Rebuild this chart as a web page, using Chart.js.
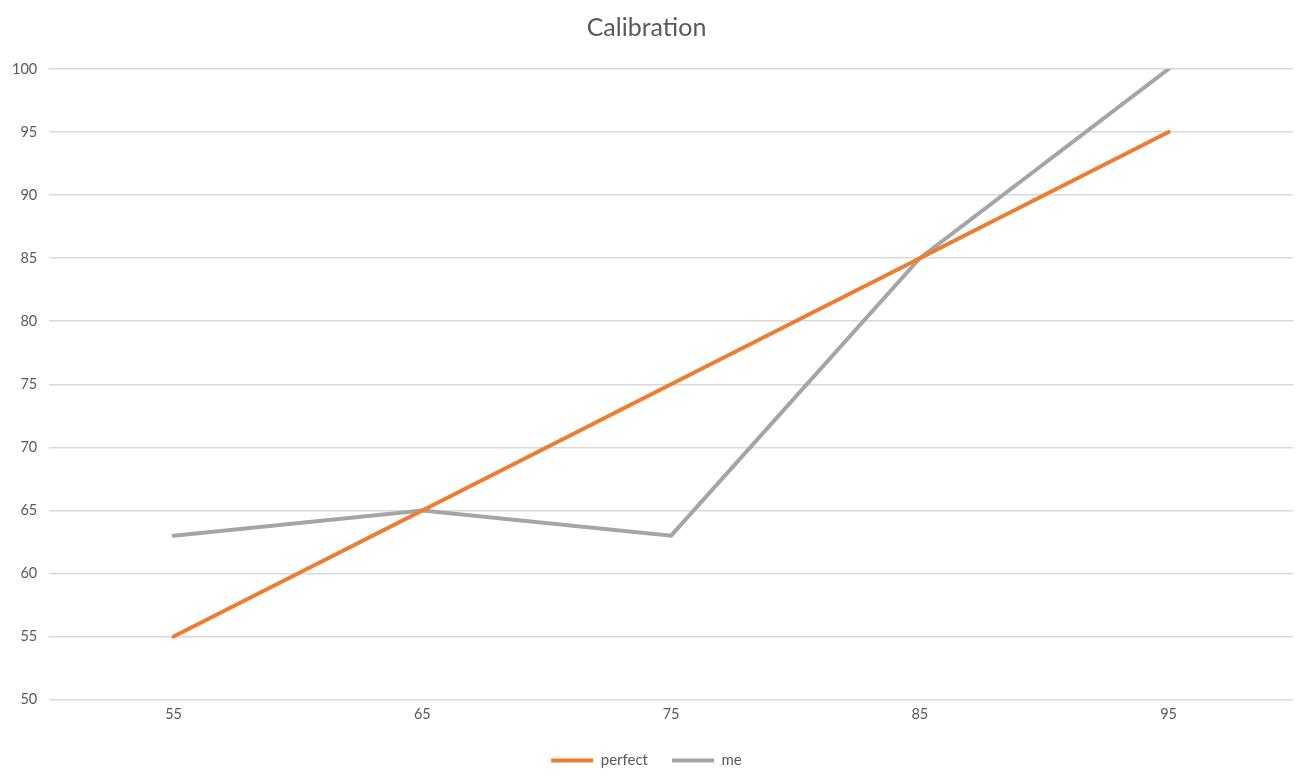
<!DOCTYPE html>
<html>
<head>
<meta charset="utf-8">
<script src="https://cdn.jsdelivr.net/npm/chart.js@4"></script>
<style>
  html, body { margin: 0; padding: 0; background: #fff; }
  #wrap { width: 1306px; height: 784px; }
</style>
</head>
<body>
<div id="wrap"><canvas id="calChart"></canvas></div>
<script>
// calibration chart data
const categories = ['55', '65', '75', '85', '95'];
const perfectValues = [55, 65, 75, 85, 95];
const meValues = [63, 65, 63, 85, 100];
const yTicks = [50, 55, 60, 65, 70, 75, 80, 85, 90, 95, 100];

const textColor = '#595959';
const fontFamily = 'Lato, "Open Sans", sans-serif';

const ctx = document.getElementById('calChart').getContext('2d');
new Chart(ctx, {
    type: 'line',
    data: {
        labels: categories,
        datasets: [
            {
                label: 'perfect',
                data: perfectValues,
                borderColor: '#ED7D31',
                backgroundColor: '#ED7D31',
                borderWidth: 4,
                borderCapStyle: 'round',
                pointRadius: 0,
                pointStyle: 'line',
                tension: 0,
            },
            {
                label: 'me',
                data: meValues,
                borderColor: '#A5A5A5',
                backgroundColor: '#A5A5A5',
                borderWidth: 4,
                borderCapStyle: 'round',
                pointRadius: 0,
                pointStyle: 'line',
                tension: 0,
            },
        ],
    },
    options: {
        responsive: true,
        maintainAspectRatio: false,
        animation: false,
        layout: { padding: { left: 0, right: 13, top: 13, bottom: 6 } },
        plugins: {
            title: {
                display: true,
                text: 'Calibration',
                color: textColor,
                font: { family: fontFamily, size: 25, weight: 'normal' },
                padding: { top: 0, bottom: 26 },
            },
            legend: {
                position: 'bottom',
                labels: {
                    color: textColor,
                    font: { family: fontFamily, size: 15 },
                    usePointStyle: true,
                    pointStyleWidth: 42,
                    boxHeight: 8,
                    padding: 24,
                },
            },
            tooltip: { enabled: false },
        },
        scales: {
            x: {
                offset: true,
                grid: { display: false, drawTicks: false },
                border: { display: false },
                ticks: {
                    color: textColor,
                    font: { family: fontFamily, size: 14.5 },
                    padding: 6,
                },
            },
            y: {
                min: yTicks[0],
                max: yTicks[yTicks.length - 1],
                afterBuildTicks: (axis) => {
                    axis.ticks = yTicks.map((v) => ({ value: v }));
                },
                grid: { color: '#D9D9D9', lineWidth: 1.5, drawTicks: false },
                border: { display: false },
                ticks: {
                    color: textColor,
                    font: { family: fontFamily, size: 14.5 },
                    padding: 12,
                },
            },
        },
    },
});
</script>
</body>
</html>
